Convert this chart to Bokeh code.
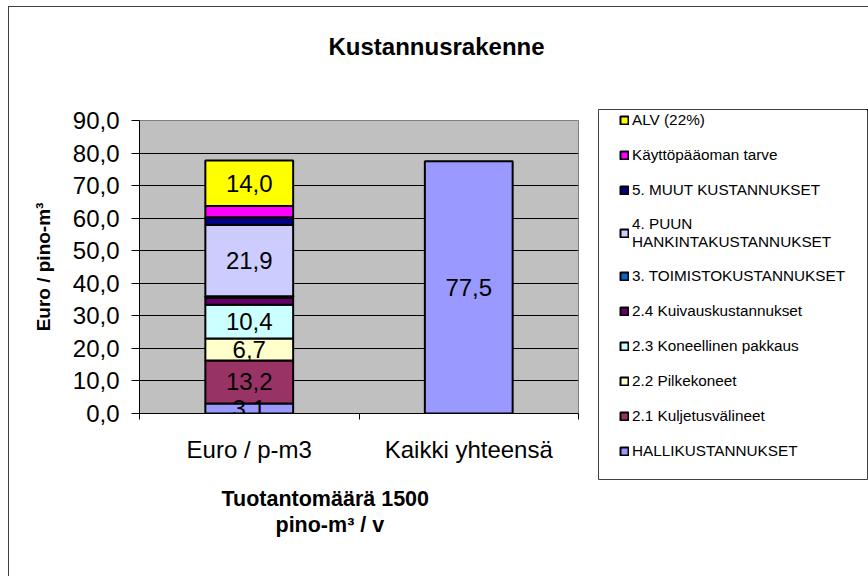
import numpy as np
from bokeh.plotting import figure
from bokeh.layouts import row
from bokeh.models import (ColumnDataSource, Range1d, FixedTicker, Legend, LegendItem, Title)
from bokeh.embed import file_html
from bokeh.resources import INLINE

# ---------------- data ----------------
categories = ["Euro / p-m3", "Kaikki yhteensä"]
series = ["HALLIKUSTANNUKSET", "2.1 Kuljetusvälineet", "2.2 Pilkekoneet",
          "2.3 Koneellinen pakkaus", "2.4 Kuivauskustannukset",
          "3. TOIMISTOKUSTANNUKSET", "4. PUUN\nHANKINTAKUSTANNUKSET",
          "5. MUUT KUSTANNUKSET", "Käyttöpääoman tarve", "ALV (22%)"]
stack_values = [3.1, 13.2, 6.7, 10.4, 2.1, 0.5, 21.9, 2.4, 3.4, 14.0]
value_shown = [True, True, True, True, False, False, True, False, False, True]
total_value = 77.5
colors = ["#9999FF", "#993366", "#FFFFCC", "#CCFFFF", "#660066",
          "#0066CC", "#CCCCFF", "#000080", "#FF00FF", "#FFFF00"]
total_color = "#9999FF"
y_ticks = [0, 10, 20, 30, 40, 50, 60, 70, 80, 90]
chart_title = "Kustannusrakenne"
x_title_lines = ["Tuotantomäärä 1500", "pino-m³ / v"]
y_title = "Euro / pino-m³"

FONT = "Liberation Sans"

def fmt(v):
    return f"{v:.1f}".replace(".", ",")

# ---------------- main chart ----------------
p = figure(width=589, height=570, output_backend="svg", toolbar_location=None,
           x_range=Range1d(0, len(categories)), y_range=Range1d(y_ticks[0], y_ticks[-1]),
           min_border_left=130, min_border_right=20, min_border_top=113,
           min_border_bottom=164, background_fill_color="#C0C0C0",
           border_fill_color="white", outline_line_color="#808080")
p.frame_align = False

x_pos = [i + 0.5 for i in range(len(categories))]
keys = [f"s{i}" for i in range(len(series))]
src = ColumnDataSource(dict(x=[x_pos[0]], **{k: [v] for k, v in zip(keys, stack_values)}))
bar_style = dict(width=0.4, fill_color=colors, line_color="black", line_width=2)
p.vbar_stack(keys, x="x", source=src, **bar_style)
p.vbar(x=[x_pos[1]], top=[total_value], width=0.4, fill_color=total_color,
       line_color="black", line_width=2)

# value labels
vals = np.array(stack_values)
mids = np.cumsum(vals) - vals / 2
lab_x = [x_pos[0] for v, s in zip(stack_values, value_shown) if s] + [x_pos[1]]
lab_y = [m for m, s in zip(mids, value_shown) if s] + [total_value / 2]
lab_t = [fmt(v) for v, s in zip(stack_values, value_shown) if s] + [fmt(total_value)]
p.text(x=lab_x, y=lab_y, text=lab_t, text_align="center", text_baseline="middle",
       text_font_size="24px", text_font={"value": FONT}, text_color="black")

# axes
p.yaxis.ticker = FixedTicker(ticks=y_ticks)
p.yaxis.major_label_overrides = {t: fmt(t) for t in y_ticks}
p.yaxis.major_label_text_font = FONT
p.yaxis.major_label_text_font_size = "24px"
p.yaxis.major_label_text_color = "black"
p.yaxis.major_tick_out = 8
p.yaxis.major_tick_in = 0
p.yaxis.minor_tick_line_color = None
p.yaxis.major_label_standoff = 12
p.yaxis.axis_line_color = "black"
p.yaxis.major_tick_line_color = "black"
p.yaxis.axis_label = y_title
p.yaxis.axis_label_text_font = FONT
p.yaxis.axis_label_text_font_style = "bold"
p.yaxis.axis_label_text_font_size = "19px"
p.yaxis.axis_label_text_color = "black"
p.yaxis.axis_label_standoff = 16

p.xaxis.ticker = FixedTicker(ticks=x_pos, minor_ticks=list(range(len(categories) + 1)))
p.xaxis.major_label_overrides = {x: c for x, c in zip(x_pos, categories)}
p.xaxis.major_label_text_font = FONT
p.xaxis.major_label_text_font_size = "24px"
p.xaxis.major_label_text_color = "black"
p.xaxis.major_tick_out = 0
p.xaxis.major_tick_in = 0
p.xaxis.minor_tick_out = 6
p.xaxis.minor_tick_in = 0
p.xaxis.minor_tick_line_color = "black"
p.xaxis.major_label_standoff = 16
p.xaxis.axis_line_color = "black"

p.ygrid.ticker = FixedTicker(ticks=y_ticks)
p.ygrid.grid_line_color = "black"
p.xgrid.grid_line_color = None

# titles (spacer titles keep the texts at their place)
p.title.text = ""
title_style = dict(text_font=FONT, text_font_style="bold", text_color="black")
p.add_layout(Title(text=" ", text_font_size="2px", standoff=57), "above")
p.add_layout(Title(text=chart_title, align="left", offset=189, standoff=0,
                   text_font_size="24px", **title_style), "above")
p.add_layout(Title(text=" ", text_font_size="2px", standoff=15), "below")
for txt, off in zip(x_title_lines, [82, 136]):
    p.add_layout(Title(text=txt, align="left", offset=off, standoff=0,
                       text_font_size="21.5px", **title_style), "below")

# ---------------- legend panel ----------------
lp = figure(width=270, height=570, output_backend="svg", toolbar_location=None,
            x_axis_type=None, y_axis_type=None,
            x_range=Range1d(-3, -2), y_range=Range1d(-2, -1),
            min_border_left=0, min_border_right=1, min_border_top=102,
            min_border_bottom=98, background_fill_color="white",
            border_fill_color="white", outline_line_color="#404040",
            outline_line_width=1)
lp.frame_align = False
lp.title.text = ""
lrends = lp.vbar_stack(keys, x="x", source=src, **bar_style)
items = [LegendItem(label=s, renderers=[r]) for s, r in zip(series, lrends)][::-1]
legend = Legend(items=items, location=(21, 18), padding=0, margin=0, spacing=15,
                label_height=20, glyph_width=10, glyph_height=10, label_standoff=3,
                label_text_font=FONT, label_text_font_size="15.3px",
                label_text_color="black", border_line_color=None,
                background_fill_alpha=0)
lp.add_layout(legend)

layout = row(p, lp)
layout.margin = (6, 0, 0, 8)
layout.styles = {"border-left": "1.5px solid #404040", "border-top": "1.5px solid #404040"}

open("out.html", "w").write(file_html(layout, INLINE))
